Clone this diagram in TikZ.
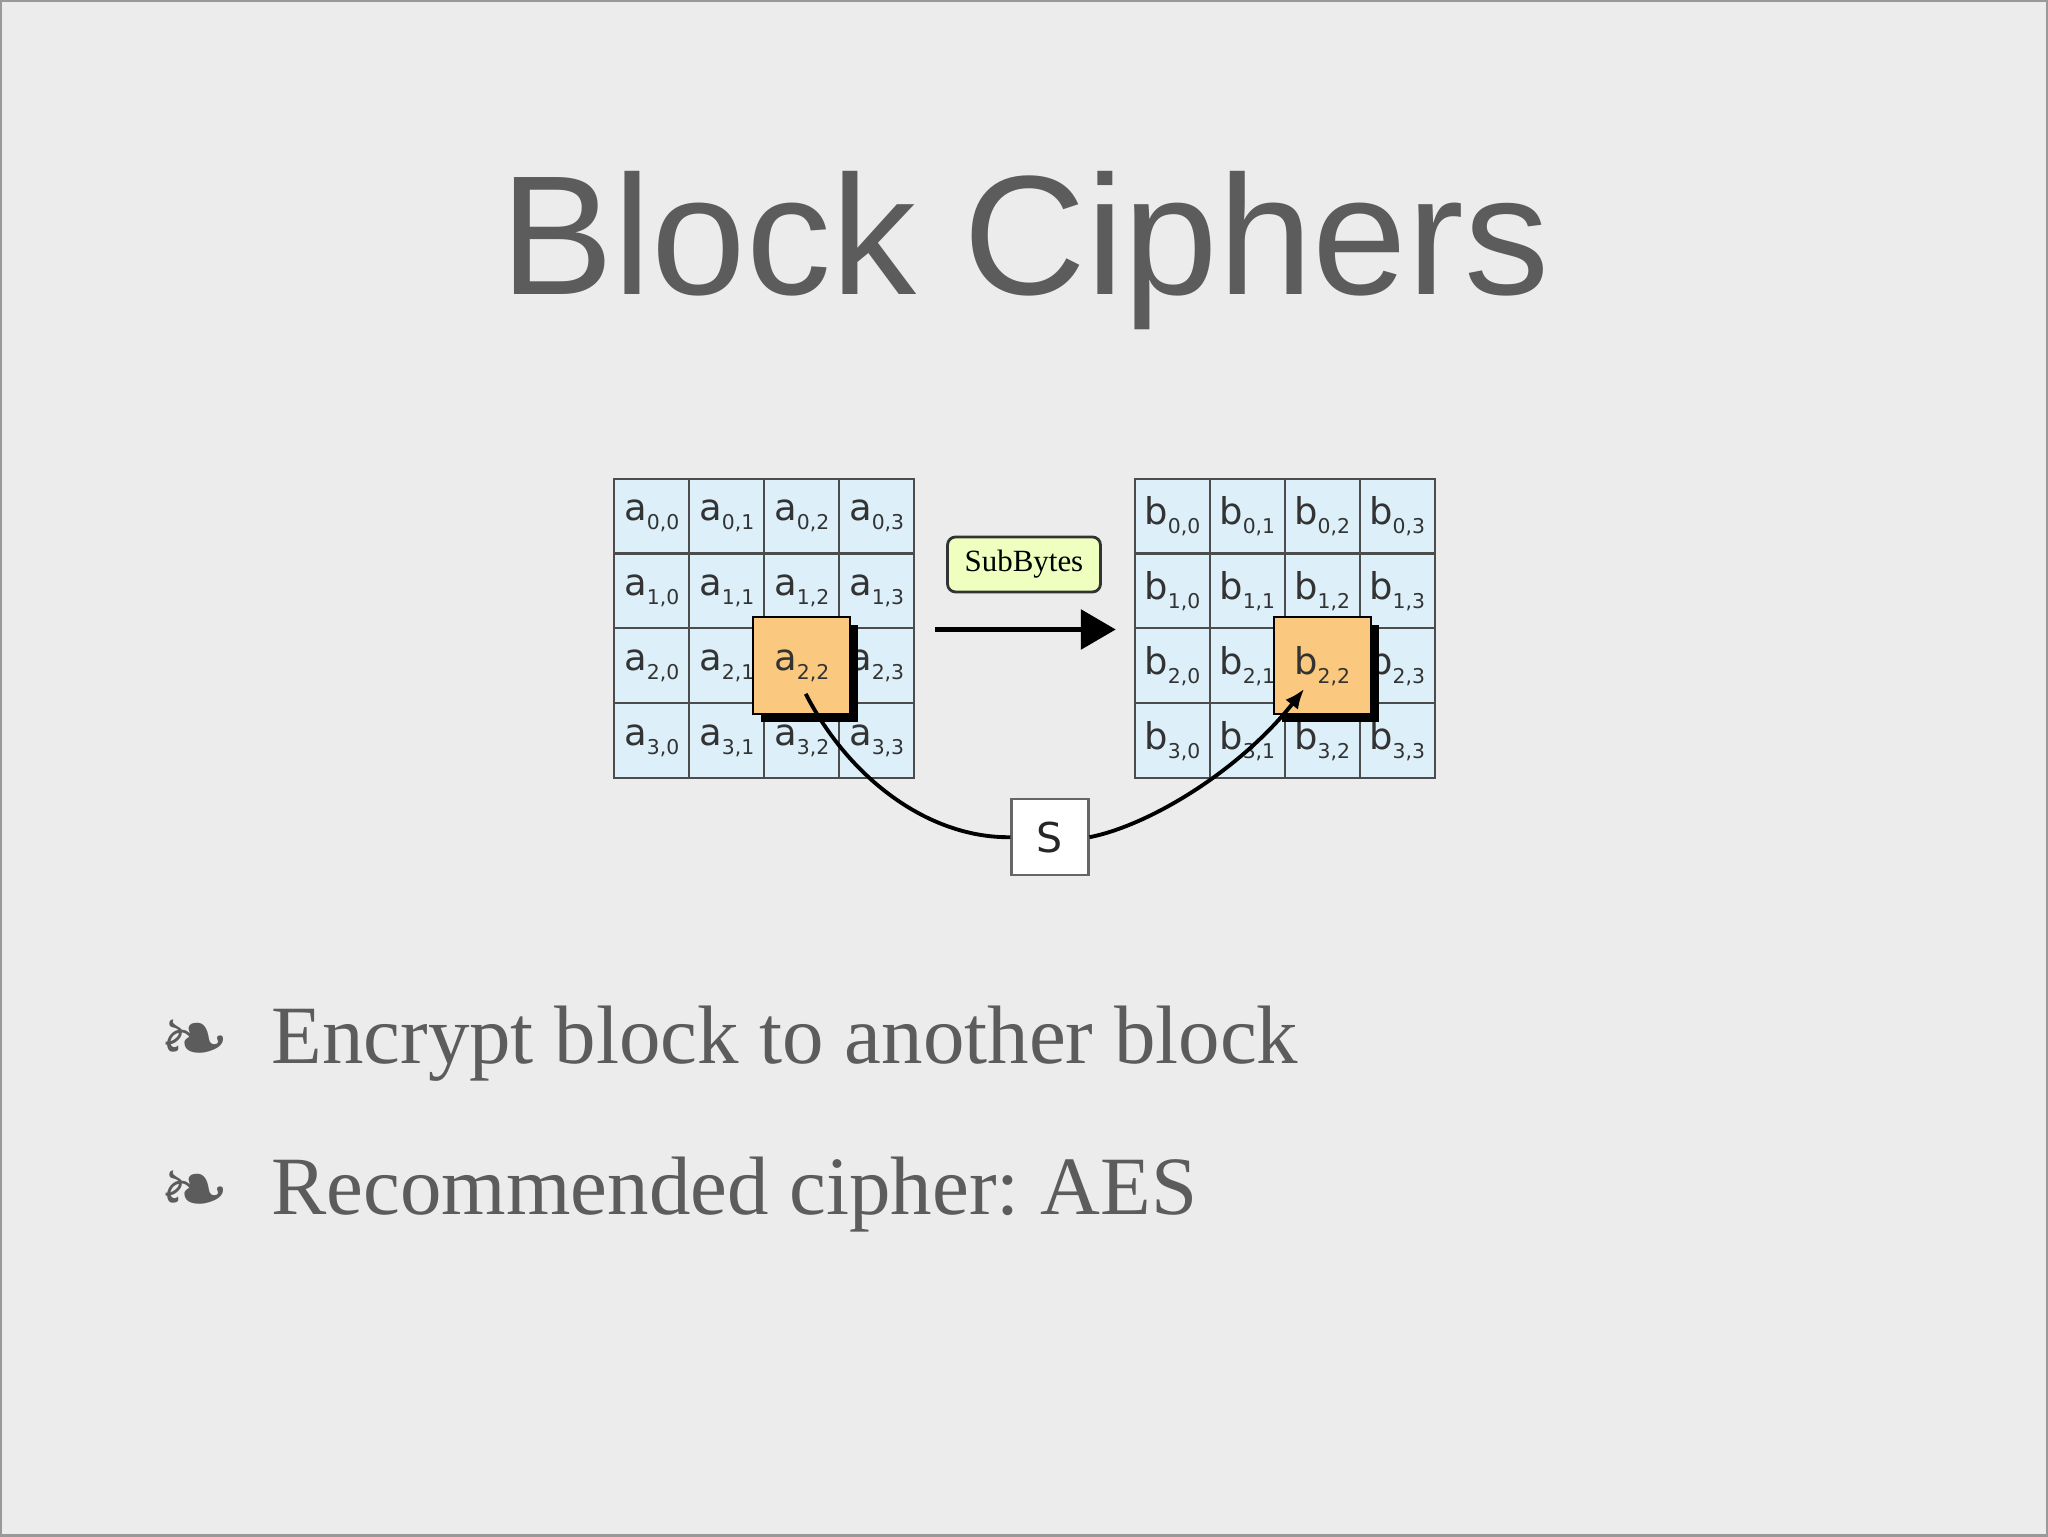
\documentclass[tikz,border=0pt]{standalone}
\usepackage{fontspec}
\setmainfont{Liberation Serif}
\setsansfont{Liberation Sans}
\newfontfamily\cellfont{DejaVu Sans}
\usetikzlibrary{arrows.meta, positioning, shadows, calc}
\frenchspacing

\definecolor{slidebg}{HTML}{ECECEC}
\definecolor{slidegray}{HTML}{5C5C5C}
\definecolor{cellblue}{HTML}{DDF0FA}
\definecolor{boxorange}{HTML}{FBC880}
\definecolor{taggreen}{HTML}{EFFFC0}

\newcommand{\entry}[3]{#1\raisebox{-0.09cm}{\fontsize{5.8}{6}\selectfont #2,#3}}

\begin{document}
\begin{tikzpicture}[x=0.01cm, y=-0.01cm,
    cell/.style={draw=black!70, line width=0.6pt, fill=cellblue, minimum size=0.75cm, inner sep=0pt,
                 font=\cellfont\fontsize{10.5}{12}\selectfont, text=black!80},
    hot/.style={cell, draw=black, fill=boxorange, minimum size=0.97cm,
                drop shadow={shadow xshift=0.08cm, shadow yshift=-0.08cm, fill=black, opacity=1}},
    sbox/.style={draw=black!60, line width=0.6pt, fill=white, minimum width=0.77cm, minimum height=0.76cm,
                 font=\cellfont\fontsize{11.7}{14}\selectfont, text=black!85},
    tag/.style={draw=black!80, line width=0.8pt, fill=taggreen, rounded corners=0.08cm,
                minimum width=1.53cm, minimum height=0.55cm, font=\fontsize{8.8}{10}\selectfont},
    wire/.style={line width=1.1pt},
    arrow/.style={wire, -{Latex[length=0.2cm, width=0.16cm]}},
    bigarrow/.style={-{Triangle[length=0.35cm, width=0.39cm]}, line width=1.7pt},
    item/.style={font=\fontsize{23.6}{28}\selectfont, text=slidegray, anchor=base west, inner sep=0pt},
    leaf/.style={font=\cellfont\fontsize{24}{28}\selectfont, text=slidegray, inner sep=0pt}
]
    % slide
    \fill[slidebg] (0,0) rectangle (2048,1536);
    \draw[black!40, line width=0.6pt] (0,0) rectangle (2048,1536);
    \useasboundingbox (0,0) rectangle (2048,1536);

    \node[font=\sffamily\fontsize{48.4}{58}\selectfont, text=slidegray, anchor=base, inner sep=0pt]
        (title) at (1025,294) {Block Ciphers};

    % state before and after
    \foreach \r in {0,...,3}
        \foreach \c in {0,...,3} {
            \node[cell] (a-\r-\c) at (651.5+75*\c, 515.5+75*\r) {\entry{a}{\r}{\c}};
            \node[cell] (b-\r-\c) at (1172.5+75*\c, 515.5+75*\r) {\entry{b}{\r}{\c}};
        }

    \node[hot] (a22) at (a-2-2) {\entry{a}{2}{2}};
    \node[hot] (b22) at (b-2-2) {\entry{b}{2}{2}};

    \node[tag] (sub) at (1024,564) {SubBytes};
    \node[sbox] (s) at (1050,837) {S};

    \draw[bigarrow, shorten <=0.2cm, shorten >=0.18cm] (a-1-3.south east) -- (b-1-0.south west);

    \coordinate (from) at ($(a22)+(4,28)$);
    \coordinate (to) at ($(b22)+(-18,23)$);
    \draw[wire] (from) .. controls (850,780) and (930,838) .. (s.west);
    \draw[arrow] (s.east) .. controls (1150,825) and (1240,770) .. (to);

    % bullets
    \node[item] (enc) at (270,1064) {Encrypt block to another block};
    \node[item] (rec) at (270,1215) {Recommended cipher: AES};
    \node[leaf, left=0.4cm of enc.west] (l1) {❧};
    \node[leaf, left=0.4cm of rec.west] (l2) {❧};
\end{tikzpicture}
\end{document}
